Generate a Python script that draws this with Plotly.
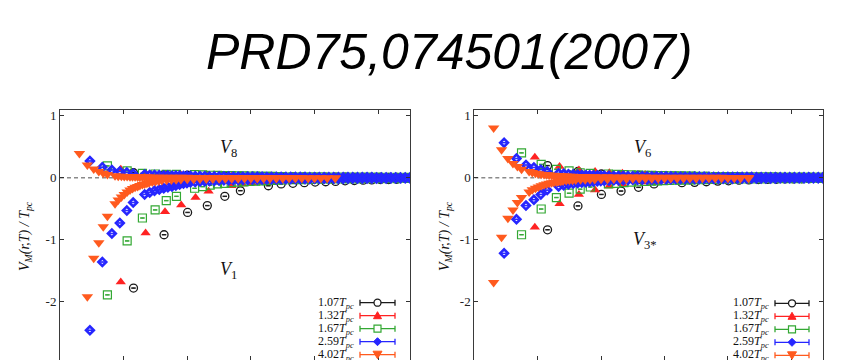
import plotly.graph_objects as go

# ---------------- data ----------------
temps = ["1.07", "1.32", "1.67", "2.59", "4.02"]

# r*T positions for each temperature
x_107 = [0.231, 0.327, 0.401, 0.463, 0.518, 0.567, 0.655, 0.695, 0.732, 0.768,
         0.802, 0.835, 0.866, 0.896, 0.925, 0.953, 0.980, 1.007, 1.033, 1.058]
x_132 = [0.191, 0.269, 0.330, 0.381, 0.426, 0.467, 0.539, 0.572, 0.603, 0.632,
         0.660, 0.687, 0.712, 0.737, 0.761, 0.784, 0.806, 0.828, 0.849]
x_167 = [0.149, 0.211, 0.259, 0.299, 0.334, 0.366, 0.423, 0.448, 0.472, 0.495,
         0.517, 0.538, 0.558, 0.578, 0.597, 0.615, 0.633, 0.650, 0.667, 0.684,
         0.700, 0.730, 0.760, 0.790, 0.820, 0.850, 0.880, 0.910, 0.940, 0.970,
         1.000, 1.030, 1.060, 1.090]
x_259 = [0.094, 0.133, 0.163, 0.188, 0.210, 0.230, 0.266, 0.282, 0.297, 0.312,
         0.326, 0.339, 0.352, 0.364, 0.376, 0.388, 0.399, 0.410, 0.425, 0.440,
         0.455, 0.470, 0.485, 0.500, 0.515, 0.530, 0.545, 0.560, 0.575, 0.590,
         0.605, 0.620, 0.635, 0.650, 0.665, 0.680, 0.695, 0.710, 0.725, 0.740,
         0.755, 0.770, 0.785, 0.800, 0.815, 0.830, 0.845, 0.860, 0.875, 0.890,
         0.905, 0.920, 0.935, 0.950, 0.965, 0.980, 0.995, 1.010, 1.025, 1.040,
         1.055, 1.070, 1.085, 1.100]
x_402 = [0.061, 0.086, 0.106, 0.122, 0.136, 0.149, 0.173, 0.183, 0.193, 0.202,
         0.211, 0.220, 0.228, 0.236, 0.244, 0.251, 0.259, 0.266, 0.273, 0.280,
         0.290, 0.300, 0.310, 0.320, 0.335, 0.350, 0.365, 0.380, 0.400, 0.420,
         0.440, 0.460, 0.480, 0.500, 0.520, 0.540, 0.560, 0.580, 0.600, 0.620,
         0.640, 0.660, 0.680, 0.700, 0.720, 0.740, 0.760, 0.780, 0.800, 0.820,
         0.840, 0.865]

# left panel: V8 (upper branch) and V1 (lower branch)
v8_107 = [0.08, 0.05, 0.04, 0.03, 0.025, 0.02, 0.018, 0.015, 0.013, 0.012,
          0.01, 0.01, 0.008, 0.008, 0.006, 0.006, 0.005, 0.005, 0.004, 0.004]
v1_107 = [-1.78, -0.92, -0.56, -0.45, -0.30, -0.21, -0.13, -0.10, -0.09, -0.08,
          -0.07, -0.065, -0.06, -0.05, -0.045, -0.04, -0.035, -0.03, -0.03, -0.025]
v8_132 = [0.135, 0.07, 0.05, 0.04, 0.035, 0.03, 0.025, 0.02, 0.02, 0.015,
          0.015, 0.012, 0.01, 0.01, 0.008, 0.008, 0.006, 0.005, 0.005]
v1_132 = [-1.68, -0.89, -0.55, -0.44, -0.32, -0.22, -0.13, -0.10, -0.085, -0.075,
          -0.065, -0.058, -0.05, -0.045, -0.04, -0.036, -0.032, -0.03, -0.027]
v8_167 = [0.19, 0.11, 0.07, 0.06, 0.055, 0.055, 0.05, 0.045, 0.04, 0.038,
          0.035, 0.032, 0.03, 0.028, 0.026, 0.024, 0.022, 0.02, 0.02, 0.018,
          0.017, 0.015, 0.014, 0.013, 0.012, 0.011, 0.01, 0.01, 0.009, 0.008,
          0.008, 0.007, 0.006, 0.006]
v1_167 = [-1.89, -1.02, -0.65, -0.52, -0.37, -0.30, -0.17, -0.145, -0.12, -0.10,
          -0.09, -0.08, -0.072, -0.066, -0.06, -0.055, -0.05, -0.046, -0.043, -0.04,
          -0.037, -0.033, -0.03, -0.028, -0.025, -0.023, -0.021, -0.02, -0.018, -0.017,
          -0.016, -0.015, -0.014, -0.013]
v8_259 = [0.27, 0.17, 0.125, 0.10, 0.085, 0.065, 0.05, 0.045, 0.042, 0.04,
          0.037, 0.035, 0.033, 0.031, 0.03, 0.028, 0.027, 0.026, 0.024, 0.023,
          0.022, 0.021, 0.02, 0.02, 0.019, 0.018, 0.017, 0.017, 0.016, 0.015,
          0.015, 0.014, 0.014, 0.013, 0.013, 0.012, 0.012, 0.011, 0.011, 0.01,
          0.01, 0.01, 0.009, 0.009, 0.009, 0.008, 0.008, 0.008, 0.007, 0.007,
          0.007, 0.007, 0.006, 0.006, 0.006, 0.006, 0.005, 0.005, 0.005, 0.005,
          0.005, 0.004, 0.004, 0.004]
v1_259 = [-2.46, -1.36, -0.90, -0.73, -0.53, -0.40, -0.27, -0.24, -0.21, -0.19,
          -0.17, -0.155, -0.14, -0.125, -0.11, -0.095, -0.085, -0.075, -0.068, -0.062,
          -0.057, -0.053, -0.049, -0.046, -0.043, -0.04, -0.038, -0.036, -0.034, -0.032,
          -0.03, -0.029, -0.028, -0.027, -0.026, -0.025, -0.024, -0.023, -0.022, -0.021,
          -0.02, -0.02, -0.019, -0.018, -0.018, -0.017, -0.016, -0.016, -0.015, -0.015,
          -0.014, -0.014, -0.013, -0.013, -0.012, -0.012, -0.012, -0.011, -0.011, -0.01,
          -0.01, -0.01, -0.01, -0.009]
v8_402 = [0.39, 0.205, 0.14, 0.10, 0.07, 0.05, 0.03, 0.025, 0.022, 0.02,
          0.018, 0.016, 0.015, 0.014, 0.013, 0.012, 0.011, 0.011, 0.01, 0.01,
          0.009, 0.009, 0.008, 0.008, 0.007, 0.007, 0.006, 0.006, 0.006, 0.005,
          0.005, 0.005, 0.004, 0.004, 0.004, 0.004, 0.003, 0.003, 0.003, 0.003,
          0.003, 0.002, 0.002, 0.002, 0.002, 0.002, 0.002, 0.001, 0.001, 0.001,
          0.001, 0.001]
v1_402 = [None, -1.92, -1.30, -1.05, -0.79, -0.62, -0.42, -0.36, -0.31, -0.27,
          -0.23, -0.20, -0.175, -0.155, -0.14, -0.125, -0.11, -0.10, -0.09, -0.08,
          -0.07, -0.06, -0.052, -0.046, -0.04, -0.035, -0.032, -0.029, -0.026, -0.024,
          -0.022, -0.02, -0.019, -0.018, -0.017, -0.016, -0.015, -0.014, -0.013, -0.013,
          -0.012, -0.012, -0.011, -0.011, -0.01, -0.01, -0.01, -0.009, -0.009, -0.009,
          -0.008, -0.008]

# right panel: V6 (upper branch) and V3* (lower branch)
v6_107 = [0.195, 0.10, 0.06, 0.05, 0.04, 0.03, 0.025, 0.02, 0.02, 0.015,
          0.015, 0.012, 0.01, 0.01, 0.008, 0.008, 0.006, 0.005, 0.005, 0.004]
v3_107 = [-0.84, -0.455, -0.27, -0.215, -0.155, -0.10, -0.08, -0.075, -0.065, -0.055,
          -0.05, -0.04, -0.035, -0.03, -0.028, -0.025, -0.02, -0.02, -0.018, -0.015]
v6_132 = [0.33, 0.18, 0.125, 0.10, 0.08, 0.07, 0.05, 0.045, 0.04, 0.035,
          0.03, 0.028, 0.025, 0.022, 0.02, 0.018, 0.016, 0.014, 0.012]
v3_132 = [-0.80, -0.42, -0.27, -0.20, -0.135, -0.10, -0.07, -0.06, -0.052, -0.046,
          -0.04, -0.036, -0.032, -0.028, -0.025, -0.022, -0.02, -0.018, -0.016]
v6_167 = [0.40, 0.215, 0.135, 0.11, 0.08, 0.07, 0.06, 0.055, 0.05, 0.045,
          0.042, 0.04, 0.037, 0.035, 0.032, 0.03, 0.028, 0.026, 0.025, 0.024,
          0.022, 0.02, 0.019, 0.018, 0.016, 0.015, 0.014, 0.013, 0.012, 0.011,
          0.01, 0.01, 0.009, 0.008]
v3_167 = [-0.92, -0.505, -0.32, -0.25, -0.185, -0.15, -0.10, -0.09, -0.08, -0.072,
          -0.065, -0.06, -0.055, -0.05, -0.047, -0.044, -0.041, -0.038, -0.036, -0.034,
          -0.032, -0.03, -0.027, -0.025, -0.023, -0.021, -0.02, -0.018, -0.017, -0.016,
          -0.015, -0.014, -0.013, -0.012]
v6_259 = [0.565, 0.31, 0.205, 0.165, 0.13, 0.10, 0.07, 0.062, 0.056, 0.05,
          0.046, 0.043, 0.04, 0.038, 0.036, 0.034, 0.032, 0.03, 0.029, 0.028,
          0.027, 0.026, 0.025, 0.024, 0.023, 0.022, 0.021, 0.02, 0.02, 0.019,
          0.018, 0.018, 0.017, 0.016, 0.016, 0.015, 0.015, 0.014, 0.014, 0.013,
          0.013, 0.012, 0.012, 0.011, 0.011, 0.011, 0.01, 0.01, 0.01, 0.009,
          0.009, 0.009, 0.008, 0.008, 0.008, 0.008, 0.007, 0.007, 0.007, 0.007,
          0.006, 0.006, 0.006, 0.006]
v3_259 = [-1.22, -0.67, -0.45, -0.355, -0.27, -0.20, -0.14, -0.12, -0.105, -0.095,
          -0.085, -0.078, -0.072, -0.066, -0.06, -0.056, -0.052, -0.048, -0.045, -0.042,
          -0.04, -0.038, -0.036, -0.034, -0.032, -0.03, -0.029, -0.028, -0.027, -0.026,
          -0.025, -0.024, -0.023, -0.022, -0.021, -0.02, -0.02, -0.019, -0.018, -0.018,
          -0.017, -0.016, -0.016, -0.015, -0.015, -0.014, -0.014, -0.013, -0.013, -0.012,
          -0.012, -0.012, -0.011, -0.011, -0.01, -0.01, -0.01, -0.01, -0.009, -0.009,
          -0.009, -0.008, -0.008, -0.008]
v6_402 = [0.80, 0.45, 0.31, 0.23, 0.18, 0.135, 0.10, 0.085, 0.072, 0.063,
          0.056, 0.05, 0.046, 0.042, 0.039, 0.036, 0.034, 0.032, 0.03, 0.028,
          0.026, 0.024, 0.022, 0.021, 0.019, 0.018, 0.017, 0.016, 0.015, 0.014,
          0.013, 0.012, 0.011, 0.011, 0.01, 0.01, 0.009, 0.009, 0.008, 0.008,
          0.008, 0.007, 0.007, 0.007, 0.006, 0.006, 0.006, 0.006, 0.005, 0.005,
          0.005, 0.005]
v3_402 = [-1.69, -0.96, -0.655, -0.52, -0.40, -0.32, -0.23, -0.195, -0.17, -0.15,
          -0.13, -0.115, -0.10, -0.09, -0.08, -0.075, -0.068, -0.062, -0.056, -0.052,
          -0.047, -0.043, -0.04, -0.037, -0.034, -0.031, -0.029, -0.027, -0.025, -0.023,
          -0.021, -0.02, -0.019, -0.018, -0.017, -0.016, -0.015, -0.014, -0.013, -0.013,
          -0.012, -0.012, -0.011, -0.011, -0.01, -0.01, -0.01, -0.009, -0.009, -0.009,
          -0.008, -0.008]

y_tickvals = [-2, -1, 0, 1]
y_ticktext = ["-2", "-1", "0", "1"]
title_text = "PRD75,074501(2007)"
left_labels = ["<i>V</i><sub>8</sub>", "<i>V</i><sub>1</sub>"]
right_labels = ["<i>V</i><sub>6</sub>", "<i>V</i><sub>3*</sub>"]
ylabel = "<i>V<sub>M</sub>(r,T) / T<sub>pc</sub></i>"

# ---------------- layout helpers ----------------
W, H = 848, 360
ML, MR, MT, MB = 60, 25, 110, 0
PW, PH = W - ML - MR, H - MT - MB


def pxx(px):
    return (px - ML) / PW


def pxy(py):
    return (H - MB - py) / PH


SERIF = "Liberation Serif, Times New Roman, serif"
X_RANGE = [0, 1.1]
Y_RANGE = [-2.94, 1.092]

styles = {
    "1.07": dict(symbol="circle-open", color="#1a1a1a", size=8, lw=1.3),
    "1.32": dict(symbol="triangle-up", color="#ff2222", size=9, lw=0),
    "1.67": dict(symbol="square-open", color="#33a833", size=8, lw=1.2),
    "2.59": dict(symbol="diamond-open", color="#2626ff", size=6, lw=2.6),
    "4.02": dict(symbol="triangle-down", color="#ff5a1e", size=10, lw=0),
}

xs = {"1.07": x_107, "1.32": x_132, "1.67": x_167, "2.59": x_259, "4.02": x_402}
left_data = {"1.07": (v8_107, v1_107), "1.32": (v8_132, v1_132), "1.67": (v8_167, v1_167),
             "2.59": (v8_259, v1_259), "4.02": (v8_402, v1_402)}
right_data = {"1.07": (v6_107, v3_107), "1.32": (v6_132, v3_132), "1.67": (v6_167, v3_167),
              "2.59": (v6_259, v3_259), "4.02": (v6_402, v3_402)}

for t in temps:
    for arr in left_data[t] + right_data[t]:
        assert len(arr) == len(xs[t]), (t, len(arr), len(xs[t]))

fig = go.Figure()
for t in temps:
    s = styles[t]
    for ax, data in (("x", left_data[t]), ("x2", right_data[t])):
        for yv in data:
            fig.add_trace(go.Scatter(
                x=xs[t], y=yv, mode="markers", showlegend=False,
                xaxis=ax, yaxis=ax.replace("x", "y"),
                marker=dict(symbol=s["symbol"], size=s["size"], color=s["color"],
                            line=dict(width=s["lw"], color=s["color"])),
                error_y=dict(type="constant", value=0.004, width=2.2,
                             thickness=1, color=s["color"]),
                cliponaxis=True,
            ))

axis_common = dict(range=X_RANGE, showgrid=False, zeroline=False, ticks="inside",
                   ticklen=4, tickwidth=1, tickcolor="#333", dtick=0.2, tick0=0,
                   showline=True, linecolor="#3a3a3a", linewidth=1, mirror="ticks",
                   showticklabels=False)
yaxis_common = dict(range=Y_RANGE, showgrid=False, zeroline=False, ticks="inside",
                    ticklen=4, tickwidth=1, tickcolor="#333", tickvals=y_tickvals,
                    ticktext=y_ticktext, showline=True, linecolor="#3a3a3a",
                    linewidth=1, mirror="ticks",
                    tickfont=dict(family=SERIF, size=13, color="#222"))

fig.update_layout(
    width=W, height=H, margin=dict(l=ML, r=MR, t=MT, b=MB),
    paper_bgcolor="white", plot_bgcolor="white",
    xaxis=dict(domain=[0, pxx(410)], anchor="y", **axis_common),
    xaxis2=dict(domain=[pxx(474.3), 1], anchor="y2", **axis_common),
    yaxis=dict(domain=[0, 1], anchor="x", **yaxis_common),
    yaxis2=dict(domain=[0, 1], anchor="x2", **yaxis_common),
)

shapes = []
annotations = []
for ax in ("x", "x2"):
    shapes.append(dict(type="line", xref=ax, yref=ax.replace("x", "y"),
                       x0=X_RANGE[0], x1=X_RANGE[1], y0=0, y1=0, layer="below",
                       line=dict(color="#8a8a8a", width=1.5, dash="4px,3px")))

# y-axis titles
for cx in (25, 445):
    annotations.append(dict(text=ylabel, xref="paper", yref="paper", x=pxx(cx), y=pxy(236),
                            xanchor="center", yanchor="middle", textangle=-90, showarrow=False,
                            font=dict(family=SERIF, size=14, color="#111")))

# panel labels
for (lx, ly), txt in zip([(228, 148), (228, 270), (642, 148), (645, 240)],
                         left_labels + right_labels):
    annotations.append(dict(text=txt, xref="paper", yref="paper", x=pxx(lx), y=pxy(ly),
                            xanchor="center", yanchor="middle", showarrow=False,
                            font=dict(family=SERIF, size=18, color="#111")))

# title
annotations.append(dict(text="<i>" + title_text + "</i>", xref="paper", yref="paper",
                        x=pxx(449), y=pxy(51.5), xanchor="center", yanchor="middle",
                        showarrow=False,
                        font=dict(family="Liberation Sans, Arial, sans-serif",
                                  size=50, color="#000")))

# legends (text on the left, key on the right)
for text_right, k0, k1, row0 in ((356, 360, 395, 302.7), (771, 775, 809, 303.3)):
    for i, t in enumerate(temps):
        s = styles[t]
        cy = row0 + 13 * i
        annotations.append(dict(text=t + "<i>T</i><sub><i>pc</i></sub>", xref="paper", yref="paper",
                                x=pxx(text_right), y=pxy(cy), xanchor="right", yanchor="middle",
                                showarrow=False, font=dict(family=SERIF, size=12, color="#111")))
        c = s["color"]
        shapes.append(dict(type="line", xref="paper", yref="paper", x0=pxx(k0), x1=pxx(k1),
                           y0=pxy(cy), y1=pxy(cy), line=dict(color=c, width=1.3)))
        for kx in (k0, k1):
            shapes.append(dict(type="line", xref="paper", yref="paper", x0=pxx(kx), x1=pxx(kx),
                               y0=pxy(cy - 3), y1=pxy(cy + 3), line=dict(color=c, width=1.3)))
        mx = pxx((k0 + k1) / 2)
        my = pxy(cy)
        base = dict(xref="paper", yref="paper", xsizemode="pixel", ysizemode="pixel",
                    xanchor=mx, yanchor=my)
        if t == "1.07":
            shapes.append(dict(type="circle", x0=-3.5, x1=3.5, y0=-3.5, y1=3.5,
                               line=dict(color=c, width=1.3), fillcolor="white", **base))
        elif t == "1.32":
            shapes.append(dict(type="path", path="M -4,-3 L 4,-3 L 0,4 Z",
                               line=dict(color=c, width=1), fillcolor=c, **base))
        elif t == "1.67":
            shapes.append(dict(type="rect", x0=-3.5, x1=3.5, y0=-3.5, y1=3.5,
                               line=dict(color=c, width=1.2), fillcolor="white", **base))
        elif t == "2.59":
            shapes.append(dict(type="path", path="M 0,4 L 4,0 L 0,-4 L -4,0 Z",
                               line=dict(color=c, width=1), fillcolor=c, **base))
        else:
            shapes.append(dict(type="path", path="M -4.5,3.5 L 4.5,3.5 L 0,-4 Z",
                               line=dict(color=c, width=1), fillcolor=c, **base))

fig.update_layout(shapes=shapes, annotations=annotations)
fig.write_html("out.html")
